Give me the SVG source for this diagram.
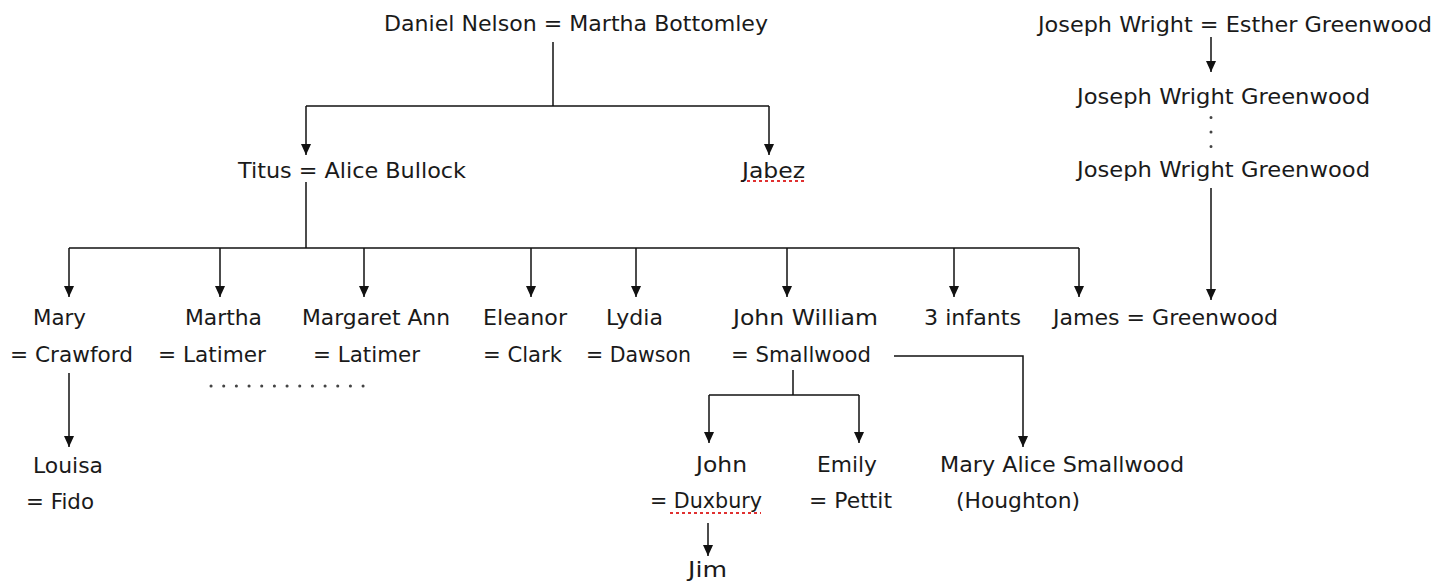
<svg xmlns="http://www.w3.org/2000/svg" width="1448" height="582" viewBox="0 0 1448 582">
<defs>
<marker id="arr" viewBox="0 0 12 12" markerWidth="12" markerHeight="11" refX="12" refY="6" orient="auto" markerUnits="userSpaceOnUse">
<path d="M0,0.5 L12,6 L0,11.5 z" fill="#111"/>
</marker>
<style>
text{font-family:"DejaVu Sans","Liberation Sans",sans-serif;font-size:22px;fill:#1a1a1a}
.c{fill:none;stroke:#111;stroke-width:1.5}
.a{marker-end:url(#arr)}
.dots{fill:none;stroke:#444;stroke-width:3;stroke-linecap:round}
.sp{fill:none;stroke:#e03030;stroke-width:2;stroke-dasharray:3 3}
</style>
</defs>
<rect width="1448" height="582" fill="#fff"/>

<g id="connectors">
<path class="c" d="M553,42 V106"/>
<path class="c" d="M306,106 H769"/>
<path class="c a" d="M306,106 V155"/>
<path class="c a" d="M769,106 V155"/>
<path class="c" d="M306,182 V248"/>
<path class="c" d="M69,248 H1079"/>
<path class="c a" d="M69,248 V297"/>
<path class="c a" d="M220,248 V297"/>
<path class="c a" d="M364,248 V297"/>
<path class="c a" d="M531,248 V297"/>
<path class="c a" d="M636,248 V297"/>
<path class="c a" d="M787,248 V297"/>
<path class="c a" d="M954,248 V297"/>
<path class="c a" d="M1079,248 V297"/>
<path class="c a" d="M1211,37 V72"/>
<path class="dots" d="M1211,117.5 V146.5" stroke-dasharray="0.1 14.4"/>
<path class="c a" d="M1211,188 V300"/>
<path class="dots" d="M211,386 H363.1" stroke-dasharray="0.1 12.57"/>
<path class="c a" d="M69,373 V447"/>
<path class="c" d="M793,370 V395"/>
<path class="c" d="M709,395 H859"/>
<path class="c a" d="M709,395 V443"/>
<path class="c a" d="M859,395 V443"/>
<path class="c a" d="M894,356 H1023 V447"/>
<path class="c a" d="M708,523 V556"/>
<path class="sp" d="M741,181 H805"/>
<path class="sp" d="M670,513 H761"/>
</g>

<g id="n-daniel"><text x="384" y="31" textLength="384" lengthAdjust="spacingAndGlyphs">Daniel Nelson = Martha Bottomley</text></g>
<g id="n-titus"><text x="238" y="178" textLength="228" lengthAdjust="spacingAndGlyphs">Titus = Alice Bullock</text></g>
<g id="n-jabez"><text x="742" y="178" textLength="63" lengthAdjust="spacingAndGlyphs">Jabez</text></g>

<g id="n-jw1"><text x="1038" y="32" textLength="394" lengthAdjust="spacingAndGlyphs">Joseph Wright = Esther Greenwood</text></g>
<g id="n-jw2"><text x="1077" y="104" textLength="293" lengthAdjust="spacingAndGlyphs">Joseph Wright Greenwood</text></g>
<g id="n-jw3"><text x="1077" y="177" textLength="293" lengthAdjust="spacingAndGlyphs">Joseph Wright Greenwood</text></g>

<g id="n-mary"><text x="33" y="325" textLength="53" lengthAdjust="spacingAndGlyphs">Mary</text><text x="10" y="362" textLength="123" lengthAdjust="spacingAndGlyphs">= Crawford</text></g>
<g id="n-martha"><text x="185" y="325" textLength="77" lengthAdjust="spacingAndGlyphs">Martha</text><text x="158" y="362" textLength="108" lengthAdjust="spacingAndGlyphs">= Latimer</text></g>
<g id="n-margaret"><text x="302" y="325" textLength="148" lengthAdjust="spacingAndGlyphs">Margaret Ann</text><text x="313" y="362" textLength="107" lengthAdjust="spacingAndGlyphs">= Latimer</text></g>
<g id="n-eleanor"><text x="483" y="325" textLength="84" lengthAdjust="spacingAndGlyphs">Eleanor</text><text x="483" y="362" textLength="79" lengthAdjust="spacingAndGlyphs">= Clark</text></g>
<g id="n-lydia"><text x="606" y="325" textLength="57" lengthAdjust="spacingAndGlyphs">Lydia</text><text x="586" y="362" textLength="105" lengthAdjust="spacingAndGlyphs">= Dawson</text></g>
<g id="n-johnwilliam"><text x="733" y="325" textLength="145" lengthAdjust="spacingAndGlyphs">John William</text><text x="731" y="362" textLength="140" lengthAdjust="spacingAndGlyphs">= Smallwood</text></g>
<g id="n-infants"><text x="924" y="325" textLength="97" lengthAdjust="spacingAndGlyphs">3 infants</text></g>
<g id="n-james"><text x="1053" y="325" textLength="225" lengthAdjust="spacingAndGlyphs">James = Greenwood</text></g>

<g id="n-louisa"><text x="33" y="473" textLength="70" lengthAdjust="spacingAndGlyphs">Louisa</text><text x="26" y="509" textLength="68" lengthAdjust="spacingAndGlyphs">= Fido</text></g>
<g id="n-john"><text x="696" y="472" textLength="51" lengthAdjust="spacingAndGlyphs">John</text><text x="650" y="508" textLength="112" lengthAdjust="spacingAndGlyphs">= Duxbury</text></g>
<g id="n-emily"><text x="817" y="472" textLength="60" lengthAdjust="spacingAndGlyphs">Emily</text><text x="809" y="508" textLength="83" lengthAdjust="spacingAndGlyphs">= Pettit</text></g>
<g id="n-maryalice"><text x="940" y="472" textLength="244" lengthAdjust="spacingAndGlyphs">Mary Alice Smallwood</text><text x="956" y="508" textLength="124" lengthAdjust="spacingAndGlyphs">(Houghton)</text></g>
<g id="n-jim"><text x="688" y="577" font-size="21" textLength="39" lengthAdjust="spacingAndGlyphs">Jim</text></g>
</svg>
